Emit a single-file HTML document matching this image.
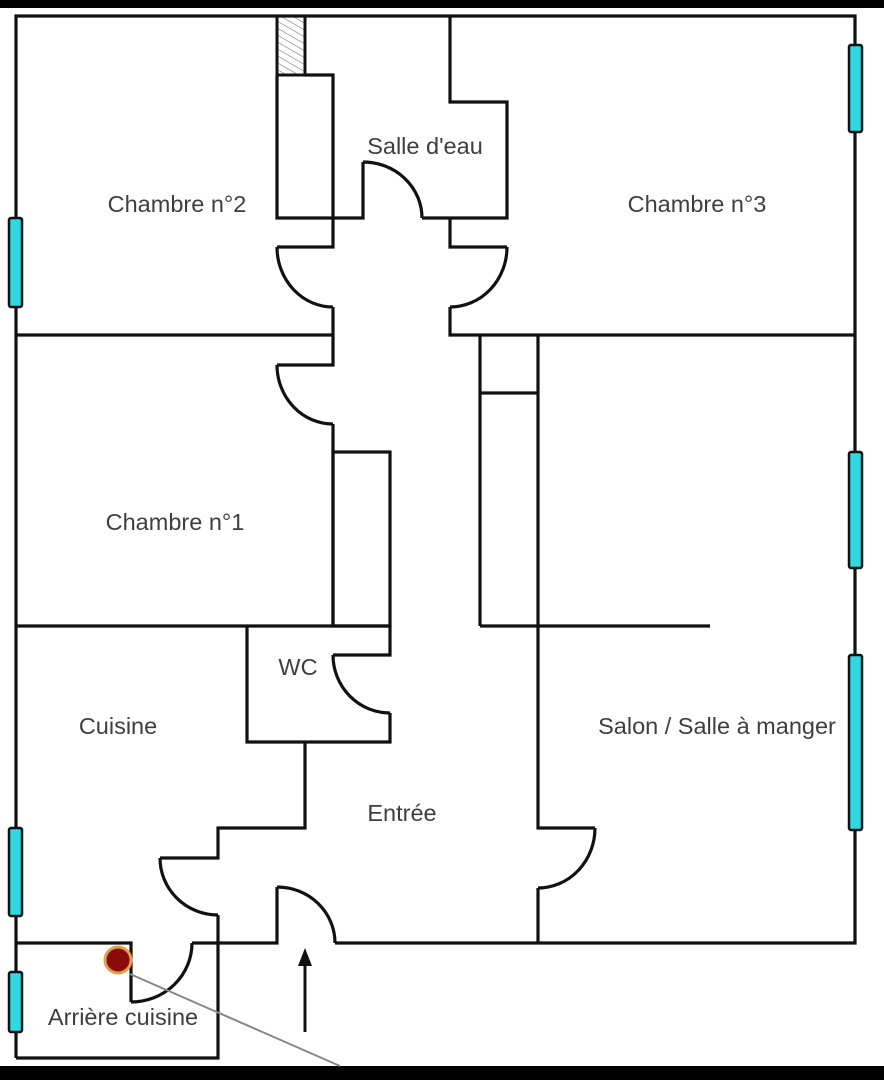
<!DOCTYPE html>
<html><head><meta charset="utf-8"><style>
html,body{margin:0;padding:0;background:#fff;}
svg{display:block}
text{font-family:"Liberation Sans",sans-serif;font-size:23.5px;fill:#3e3e3e;text-anchor:middle}
</style></head><body>
<svg width="884" height="1080" viewBox="0 0 884 1080" xmlns="http://www.w3.org/2000/svg">
<defs><pattern id="h" width="6" height="6" patternUnits="userSpaceOnUse" patternTransform="rotate(-60)"><line x1="0" y1="0" x2="0" y2="6" stroke="#777" stroke-width="1.2"/></pattern></defs>
<rect x="0" y="0" width="884" height="1080" fill="#fff"/>
<rect x="0" y="0" width="884" height="8" fill="#000"/>
<rect x="0" y="1066" width="884" height="14" fill="#000"/>
<rect x="277" y="16" width="28" height="59" fill="url(#h)" stroke="#111" stroke-width="3"/>
<g fill="none" stroke="#111" stroke-width="3.2" stroke-linejoin="miter">
<polyline points="16,1058 16,16 855,16 855,943 335,943"/>
<polyline points="305,75 333,75 333,218"/>
<polyline points="277,75 277,218 363,218 363,162"/>
<path d="M363,162 A59,56 0 0 1 422,218"/>
<polyline points="422,218 507,218 507,102 450,102 450,16"/>
<polyline points="333,218 333,247 277,247"/>
<path d="M277,247 A56,60 0 0 0 333,307"/>
<polyline points="333,307 333,365 277,365"/>
<path d="M277,365 A56,59 0 0 0 333,424"/>
<line x1="16" y1="335" x2="333" y2="335"/>
<polyline points="450,218 450,247 507,247"/>
<path d="M507,247 A57,60 0 0 1 450,307"/>
<polyline points="450,307 450,335 855,335"/>
<polyline points="333,424 333,626"/>
<rect x="333" y="452" width="57" height="174"/>
<line x1="16" y1="626" x2="390" y2="626"/>
<polyline points="390,626 390,655 333,655"/>
<path d="M333,655 A57,58 0 0 0 390,713"/>
<polyline points="390,713 390,742 247,742 247,626"/>
<polyline points="305,742 305,828 218,828 218,858 160,858"/>
<path d="M160,858 A58,57 0 0 0 218,915"/>
<polyline points="218,915 218,943 277,943 277,887"/>
<path d="M277,887 A58,56 0 0 1 335,943"/>
<polyline points="16,943 131,943 131,1002"/>
<path d="M131,1002 A61,59 0 0 0 192,943"/>
<line x1="192" y1="943" x2="218" y2="943"/>
<polyline points="16,1058 218,1058 218,943"/>
<polyline points="480,626 480,335"/>
<line x1="480" y1="393" x2="538" y2="393"/>
<line x1="480" y1="626" x2="710" y2="626"/>
<polyline points="538,335 538,828 595,828"/>
<path d="M595,828 A57,60 0 0 1 538,888"/>
<line x1="538" y1="888" x2="538" y2="943"/>
</g>
<g fill="#2fd9e0" stroke="#111" stroke-width="2.5">
<rect x="849" y="45" width="13" height="87" rx="2"/>
<rect x="849" y="452" width="13" height="116" rx="2"/>
<rect x="849" y="655" width="13" height="175" rx="2"/>
<rect x="9" y="218" width="13" height="89" rx="2"/>
<rect x="9" y="828" width="13" height="88" rx="2"/>
<rect x="9" y="972" width="13" height="60" rx="2"/>
</g>
<line x1="130" y1="974" x2="340" y2="1066" stroke="#888" stroke-width="2"/>
<circle cx="118" cy="960" r="13" fill="#8b0a0a" stroke="#e0a050" stroke-width="3"/>
<line x1="305" y1="1032" x2="305" y2="960" stroke="#111" stroke-width="3"/>
<polygon points="305,948 298,966 312,966" fill="#111"/>
<text x="177" y="212">Chambre n°2</text>
<text x="425" y="154">Salle d'eau</text>
<text x="697" y="212">Chambre n°3</text>
<text x="175" y="530">Chambre n°1</text>
<text x="298" y="675">WC</text>
<text x="118" y="734">Cuisine</text>
<text x="717" y="734">Salon / Salle à manger</text>
<text x="402" y="821">Entrée</text>
<text x="123" y="1025">Arrière cuisine</text>
</svg>
</body></html>
